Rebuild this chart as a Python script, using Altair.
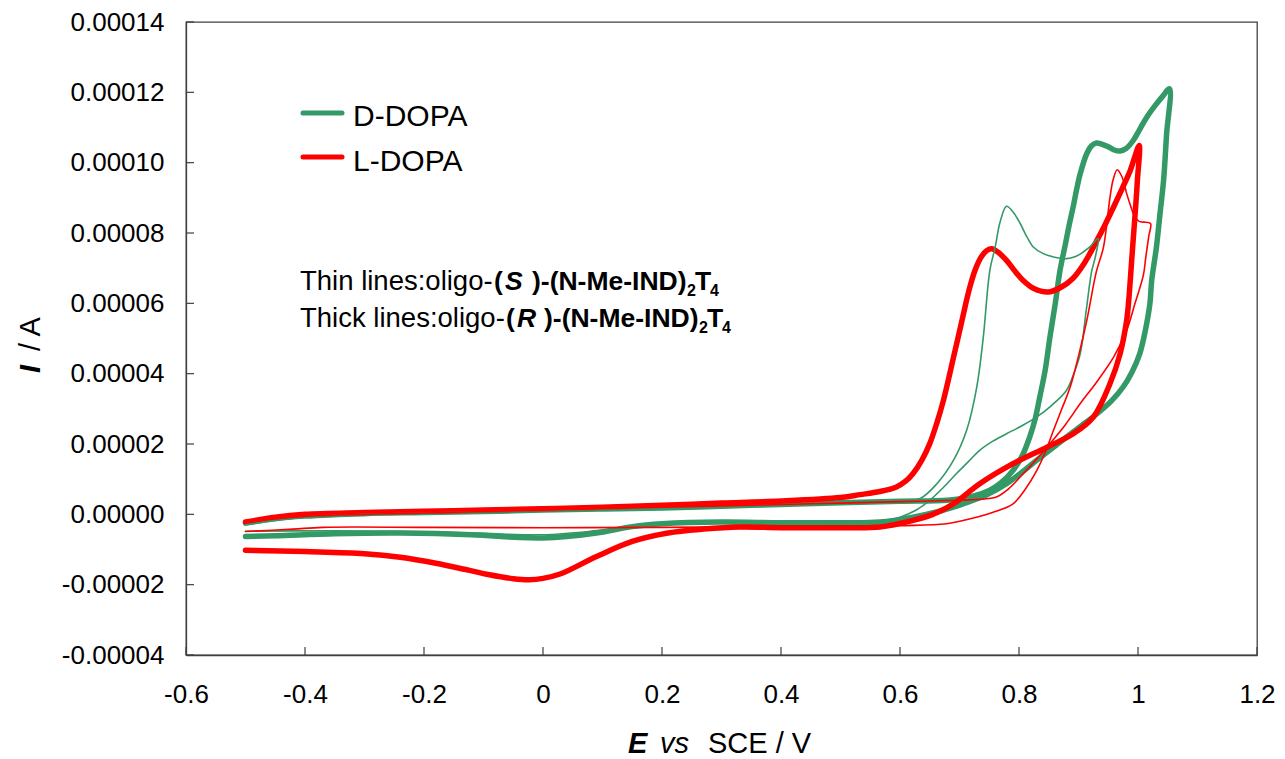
import altair as alt
import pandas as pd

# ---------------- data (E in V, I in units of 1e-5 A) ----------------
X_TICKS = [-0.6, -0.4, -0.2, 0.0, 0.2, 0.4, 0.6, 0.8, 1.0, 1.2]
Y_TICKS = [-0.00004, -0.00002, 0.0, 0.00002, 0.00004, 0.00006, 0.00008, 0.00010, 0.00012, 0.00014]

# thick green: oligo-(R) film, D-DOPA
R_D = [(-0.50,-0.25),(-0.45,-0.12),(-0.40,-0.05),(-0.30,0.02),(-0.20,0.05),(-0.10,0.08),(0.00,0.12),
       (0.10,0.15),(0.20,0.18),(0.30,0.23),(0.40,0.28),(0.50,0.33),(0.60,0.37),(0.68,0.40),(0.72,0.50),
       (0.75,0.68),(0.77,0.90),(0.79,1.25),(0.805,1.65),(0.818,2.20),(0.827,2.70),(0.835,3.34),(0.844,4.10),
       (0.852,5.04),(0.861,6.00),(0.869,6.94),(0.877,7.60),(0.884,8.20),(0.891,8.74),(0.897,9.25),(0.903,9.69),
       (0.914,10.26),(0.922,10.48),(0.930,10.56),(0.940,10.52),(0.950,10.45),(0.960,10.36),(0.970,10.33),
       (0.980,10.40),(0.992,10.63),(1.003,10.95),(1.015,11.30),(1.030,11.65),(1.042,11.90),(1.053,12.10),
       (1.048,10.80),(1.043,9.50),(1.037,8.55),(1.031,7.60),(1.023,6.65),(1.020,5.99),(1.012,5.20),(1.003,4.57),
       (0.990,4.05),(0.975,3.62),(0.955,3.22),(0.931,2.86),(0.905,2.52),(0.880,2.20),(0.855,1.87),(0.830,1.54),
       (0.805,1.20),(0.779,0.87),(0.745,0.55),(0.706,0.30),(0.665,0.08),(0.622,-0.08),(0.566,-0.22),(0.50,-0.24),
       (0.40,-0.24),(0.30,-0.22),(0.20,-0.27),(0.15,-0.35),(0.09,-0.53),(0.04,-0.63),(0.00,-0.67),(-0.04,-0.66),
       (-0.12,-0.58),(-0.24,-0.53),(-0.35,-0.55),(-0.45,-0.61),(-0.50,-0.63)]

# thick red: oligo-(R) film, L-DOPA
R_L = [(-0.50,-0.22),(-0.45,-0.08),(-0.40,0.00),(-0.30,0.05),(-0.20,0.09),(-0.10,0.12),(0.00,0.16),
       (0.10,0.20),(0.20,0.26),(0.30,0.32),(0.40,0.38),(0.50,0.48),(0.533,0.56),(0.566,0.65),(0.594,0.78),
       (0.610,0.95),(0.622,1.16),(0.637,1.55),(0.650,2.01),(0.662,2.60),(0.673,3.24),(0.690,4.47),(0.700,5.20),
       (0.710,5.95),(0.718,6.50),(0.727,6.98),(0.737,7.33),(0.746,7.50),(0.754,7.55),(0.765,7.45),(0.779,7.22),
       (0.793,6.92),(0.807,6.65),(0.825,6.42),(0.849,6.32),(0.870,6.45),(0.890,6.70),(0.910,7.15),(0.931,7.79),
       (0.945,8.25),(0.959,8.74),(0.973,9.25),(0.987,9.78),(1.002,10.49),
       (0.999,9.50),(0.995,8.50),(0.991,7.60),(0.987,6.65),(0.984,6.00),(0.981,5.52),(0.970,4.57),(0.953,3.72),
       (0.925,2.77),(0.891,2.29),(0.847,1.91),(0.790,1.44),(0.734,0.87),(0.690,0.30),(0.655,0.00),(0.622,-0.17),
       (0.566,-0.36),(0.50,-0.38),(0.40,-0.38),(0.33,-0.36),(0.27,-0.42),(0.21,-0.53),(0.15,-0.77),(0.09,-1.20),
       (0.03,-1.69),(0.00,-1.82),(-0.023,-1.86),(-0.05,-1.83),(-0.09,-1.72),(-0.13,-1.57),(-0.18,-1.39),
       (-0.24,-1.22),(-0.30,-1.12),(-0.40,-1.06),(-0.50,-1.02)]

# thin green: oligo-(S) film, D-DOPA
S_D = [(-0.50,-0.30),(-0.40,-0.08),(-0.20,0.04),(0.00,0.10),(0.20,0.18),(0.40,0.27),(0.55,0.34),(0.60,0.37),
       (0.634,0.45),(0.662,0.87),(0.690,1.54),(0.712,2.39),(0.729,3.62),(0.740,5.04),(0.751,6.94),(0.760,7.60),
       (0.768,8.30),(0.779,8.76),(0.790,8.60),(0.802,8.27),(0.813,7.90),(0.824,7.60),(0.840,7.42),(0.858,7.32),
       (0.880,7.27),(0.895,7.33),(0.908,7.46),(0.920,7.62),(0.933,7.84),
       (0.928,7.30),(0.922,6.90),(0.913,5.80),(0.903,4.57),(0.892,4.00),(0.880,3.53),(0.855,3.10),(0.830,2.77),
       (0.805,2.52),(0.779,2.29),(0.756,2.08),(0.734,1.82),(0.715,1.50),(0.695,1.16),(0.672,0.75),(0.650,0.40),
       (0.625,0.10),(0.600,-0.08),(0.578,-0.17),(0.50,-0.22),(0.40,-0.22),(0.30,-0.22),(0.20,-0.28),(0.10,-0.45),
       (0.00,-0.58),(-0.10,-0.54),(-0.20,-0.50),(-0.35,-0.47),(-0.50,-0.48)]

# thin red: oligo-(S) film, L-DOPA
S_L = [(-0.50,-0.49),(-0.42,-0.42),(-0.37,-0.37),(-0.20,-0.37),(0.00,-0.38),(0.20,-0.37),(0.40,-0.35),(0.60,-0.32),
       (0.678,-0.27),(0.720,-0.12),(0.760,0.08),(0.790,0.30),(0.810,0.70),(0.830,1.25),(0.845,1.80),(0.858,2.39),
       (0.872,3.00),(0.886,3.62),(0.900,4.50),(0.914,5.52),(0.930,6.90),(0.942,7.60),(0.953,9.02),(0.958,9.50),
       (0.965,9.80),(0.973,9.60),(0.981,9.12),(0.988,8.75),(0.995,8.45),(1.002,8.33),(1.009,8.31),(1.021,8.27),
       (1.018,7.90),(1.013,7.30),(1.009,6.80),(0.995,6.00),(0.981,5.23),(0.959,4.47),(0.930,3.75),(0.903,3.15),
       (0.878,2.55),(0.852,2.01),(0.827,1.52),(0.802,1.06),(0.782,0.72),(0.762,0.49),(0.730,0.42),(0.700,0.40),
       (0.600,0.36),(0.500,0.32),(0.400,0.28),(0.200,0.20),(0.000,0.12),(-0.200,0.04),(-0.400,-0.06),(-0.500,-0.22)]

LEGEND_NAMES = ["D-DOPA", "L-DOPA"]
COLORS = ["#339966", "#FF0000"]
GREEN, RED = COLORS

# ---------------- layout ----------------
W, H = 1071, 633
FONT = "Liberation Sans"
AX = "#404040"

xscale = alt.Scale(domain=[-0.6, 1.2], nice=False, zero=False)
yscale = alt.Scale(domain=[-0.00004, 0.00014], nice=False, zero=False)

XAXIS = alt.Axis(values=X_TICKS, title=None, grid=False, ticks=False, tickSize=0,
                 labelExpr="replace(format(datum.value, '.1~f'), '\u2212', '-')",
                 labelFont=FONT, labelFontSize=26, labelColor="black", labelPadding=26,
                 domainColor=AX, domainWidth=1.3, labelFlush=False)
YAXIS = alt.Axis(values=Y_TICKS, title=None, grid=False, ticks=False, tickSize=0,
                 labelExpr="replace(format(datum.value, '.5f'), '\u2212', '-')",
                 labelFont=FONT, labelFontSize=26, labelColor="black", labelPadding=22,
                 domainColor=AX, domainWidth=1.3, labelFlush=False)


def curve_df(points):
    return pd.DataFrame({"E": [p[0] for p in points],
                         "I": [p[1] * 1e-5 for p in points],
                         "idx": list(range(len(points)))})


def curve(points, color, width):
    return alt.Chart(curve_df(points)).mark_line(
        color=color, strokeWidth=width, strokeCap="round", strokeJoin="round",
        interpolate="catmull-rom", clip=True
    ).encode(
        x=alt.X("E:Q", scale=xscale, axis=XAXIS),
        y=alt.Y("I:Q", scale=yscale, axis=YAXIS),
        order="idx:Q",
    )


ONE = pd.DataFrame({"k": [0]})


def txt(s, x, y, size, weight="normal", style="normal", angle=0):
    return alt.Chart(ONE).mark_text(
        text=s, align="left", baseline="alphabetic", font=FONT, fontSize=size,
        fontWeight=weight, fontStyle=style, angle=angle, color="black"
    ).encode(x=alt.value(x), y=alt.value(y))


# inward ticks
xticks = alt.Chart(pd.DataFrame({"v": X_TICKS})).mark_rule(color=AX, strokeWidth=1.2).encode(
    x=alt.X("v:Q", scale=xscale, axis=XAXIS), y=alt.value(H), y2=alt.value(H - 8))
yticks = alt.Chart(pd.DataFrame({"v": Y_TICKS})).mark_rule(color=AX, strokeWidth=1.2).encode(
    y=alt.Y("v:Q", scale=yscale, axis=YAXIS), x=alt.value(0), x2=alt.value(8))

# legend (drawn)
leg_df = pd.DataFrame({"name": LEGEND_NAMES, "color": COLORS, "ly": [91, 135], "ty": [104, 148.5]})
leg_lines = alt.Chart(leg_df).mark_rule(strokeWidth=5, strokeCap="round").encode(
    x=alt.value(117), x2=alt.value(156), y=alt.Y("ly:Q", scale=None),
    color=alt.Color("color:N", scale=None))
leg_text = alt.Chart(leg_df).mark_text(align="left", baseline="alphabetic", font=FONT,
                                       fontSize=30, color="black").encode(
    x=alt.value(167), y=alt.Y("ty:Q", scale=None), text="name:N")

layers = [
    curve(R_D, GREEN, 5.5),
    curve(R_L, RED, 5.5),
    curve(S_D, GREEN, 1.6),
    curve(S_L, RED, 1.6),
    xticks, yticks,
    leg_lines, leg_text,
    # annotation line 1
    txt("Thin lines:oligo-", 114, 268, 27.5),
    txt("(", 308, 268, 26.5, "bold"),
    txt("S", 319, 268, 26.5, "bold", "italic"),
    txt(")-(N-Me-IND)", 346, 268, 26.5, "bold"),
    txt("2", 501, 274, 16, "bold"),
    txt("T", 509, 268, 26.5, "bold"),
    txt("4", 524, 274, 16, "bold"),
    # annotation line 2
    txt("Thick lines:oligo-", 114, 304.7, 27.5),
    txt("(", 320, 304.7, 26.5, "bold"),
    txt("R", 331, 304.7, 26.5, "bold", "italic"),
    txt(")-(N-Me-IND)", 358, 304.7, 26.5, "bold"),
    txt("2", 513, 310.7, 16, "bold"),
    txt("T", 521, 304.7, 26.5, "bold"),
    txt("4", 536, 310.7, 16, "bold"),
    # x axis title
    txt("E", 442, 731, 29, "bold", "italic"),
    txt("vs", 474, 731, 29, "normal", "italic"),
    txt("SCE / V", 522, 731, 29),
    # y axis title
    txt("I", -146, 351, 29, "bold", "italic", 270),
    txt("/ A", -146, 329, 29, "normal", "normal", 270),
]

chart = alt.layer(*layers).properties(
    width=W, height=H,
    padding={"left": 186, "top": 22, "right": 28, "bottom": 104},
    autosize=alt.AutoSizeParams(type="none"),
    background="white",
).configure_view(stroke=AX, strokeWidth=1.3)

chart.save("out.html", embed_options={"renderer": "svg", "actions": False})
